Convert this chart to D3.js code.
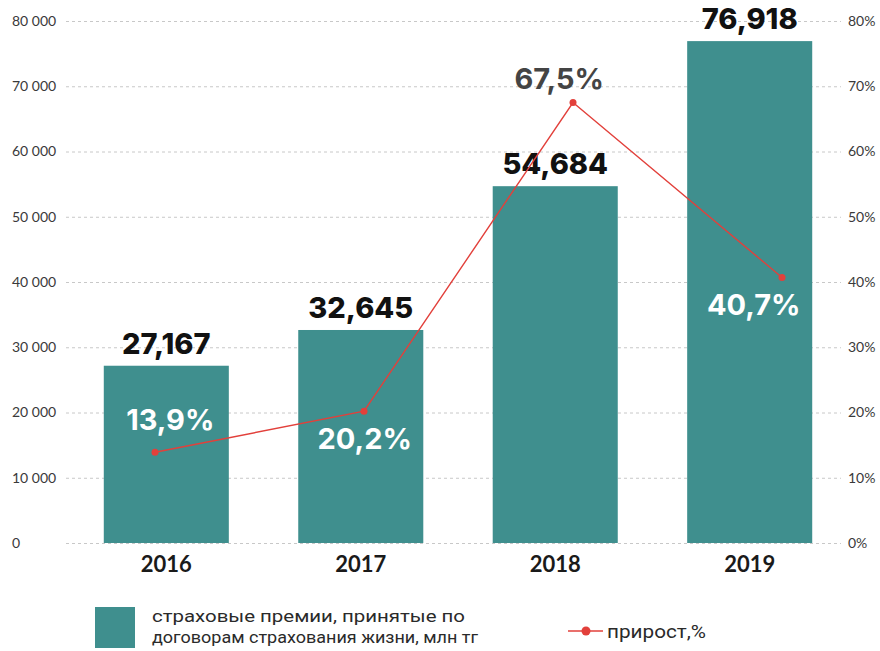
<!DOCTYPE html>
<html>
<head>
<meta charset="utf-8">
<script src="https://cdn.jsdelivr.net/npm/d3@7"></script>
<style>
  html, body { margin: 0; padding: 0; background: #fff; }
  svg { display: block; }
</style>
</head>
<body>
<svg id="chart" width="880" height="651"></svg>
<script>
// Life-insurance premiums (mln tg) and year-over-year growth
const years = ["2016", "2017", "2018", "2019"];
const premiums = [27167, 32645, 54684, 76918];
const premiumLabels = ["27,167", "32,645", "54,684", "76,918"];
const growth = [13.9, 20.2, 67.5, 40.7];
const growthLabels = ["13,9%", "20,2%", "67,5%", "40,7%"];
const leftTicks = [0, 10000, 20000, 30000, 40000, 50000, 60000, 70000, 80000];
const rightTicks = [0, 10, 20, 30, 40, 50, 60, 70, 80];
const legendBarLines = ["страховые премии, принятые по", "договорам страхования жизни, млн тг"];
const legendLineLabel = "прирост,%";

const TEAL = "#3f8f8e";
const RED = "#e2403b";

const svg = d3.select("#chart");
svg.append("rect").attr("width", 880).attr("height", 651).attr("fill", "#fff");

const x = d3.scaleBand().domain(years).range([68, 848]).paddingInner(0.357).paddingOuter(0.184);
const xLine = d3.scalePoint().domain(years).range([155, 782]);
const yLeft = d3.scaleLinear().domain([0, 80000]).range([543, 21]);
const yRight = d3.scaleLinear().domain([0, 80]).range([543, 21]);

const spaceFmt = d3.formatLocale({ decimal: ",", thousands: "\u00a0", grouping: [3], currency: ["", ""] }).format(",d");

// dashed gridlines
svg.append("g").selectAll("line").data(leftTicks).join("line")
  .attr("x1", 66).attr("x2", 841)
  .attr("y1", d => yLeft(d) + 0.5).attr("y2", d => yLeft(d) + 0.5)
  .attr("stroke", "#c8c8c8").attr("stroke-width", 1).attr("stroke-dasharray", "3,3");

// left axis labels
const leftAxis = d3.axisLeft(yLeft).tickValues(leftTicks).tickFormat(spaceFmt).tickSize(0);
const gL = svg.append("g").attr("transform", "translate(12,0)").call(leftAxis);
gL.select(".domain").remove();
gL.selectAll("text").attr("x", 0).attr("dy", "0.32em").attr("text-anchor", "start")
  .attr("font-family", "Lato, 'Open Sans', sans-serif").attr("font-size", 14).attr("fill", "#3a3a3a");

// right axis labels
const rightAxis = d3.axisRight(yRight).tickValues(rightTicks).tickFormat(d => d + "%").tickSize(0);
const gR = svg.append("g").attr("transform", "translate(848,0)").call(rightAxis);
gR.select(".domain").remove();
gR.selectAll("text").attr("x", 0).attr("dy", "0.32em").attr("text-anchor", "start")
  .attr("font-family", "Lato, 'Open Sans', sans-serif").attr("font-size", 14).attr("fill", "#3a3a3a");

// bars
svg.append("g").selectAll("rect").data(years).join("rect")
  .attr("x", d => x(d)).attr("width", x.bandwidth())
  .attr("y", (d, i) => yLeft(premiums[i]))
  .attr("height", (d, i) => yLeft(0) - yLeft(premiums[i]))
  .attr("fill", TEAL);

// bar value labels
svg.append("g").selectAll("text").data(years).join("text")
  .attr("x", d => x(d) + x.bandwidth() / 2)
  .attr("y", (d, i) => yLeft(premiums[i]) - 12)
  .attr("text-anchor", "middle")
  .attr("font-family", "Inter, 'Open Sans', sans-serif").attr("font-weight", 800)
  .attr("font-size", 29).attr("fill", "#111")
  .text((d, i) => premiumLabels[i]);

// x axis labels
const xAxis = d3.axisBottom(x).tickSize(0);
const gX = svg.append("g").attr("transform", "translate(0,543)").call(xAxis);
gX.select(".domain").remove();
gX.selectAll("text").attr("y", 29).attr("dy", 0)
  .attr("font-family", "Lato, 'Open Sans', sans-serif").attr("font-weight", 700)
  .attr("font-size", 22).attr("fill", "#1a1a1a");

// growth line
const line = d3.line().x((d, i) => xLine(years[i])).y(d => yRight(d));
svg.append("path").datum(growth).attr("d", line)
  .attr("fill", "none").attr("stroke", RED).attr("stroke-width", 1.4);
svg.append("g").selectAll("circle").data(growth).join("circle")
  .attr("cx", (d, i) => xLine(years[i])).attr("cy", d => yRight(d))
  .attr("r", 3.5).attr("fill", RED);

// growth labels: offset from each point, white where they sit on a bar
const growthDy = [-22, 38, -14, 38];
const growthInside = [true, true, false, true];
svg.append("g").selectAll("text").data(growth).join("text")
  .attr("x", (d, i) => x(years[i]) + x.bandwidth() / 2 + 4)
  .attr("y", (d, i) => yRight(d) + growthDy[i])
  .attr("text-anchor", "middle")
  .attr("font-family", "Inter, 'Open Sans', sans-serif").attr("font-weight", 700)
  .attr("font-size", 29)
  .attr("fill", (d, i) => growthInside[i] ? "#fff" : "#444")
  .text((d, i) => growthLabels[i]);

// legend
const lg = svg.append("g");
lg.append("rect").attr("x", 95).attr("y", 607).attr("width", 40).attr("height", 41).attr("fill", TEAL);
lg.selectAll("text.bl").data(legendBarLines).join("text").attr("class", "bl")
  .attr("x", 152).attr("y", (d, i) => 622 + i * 21)
  .attr("font-family", "'Liberation Sans Narrow', Roboto, sans-serif")
  .attr("font-size", 17).attr("fill", "#2a2a2a")
  .attr("textLength", (d, i) => i === 0 ? 313 : 326).attr("lengthAdjust", "spacingAndGlyphs")
  .text(d => d);
lg.append("line").attr("x1", 568).attr("x2", 603).attr("y1", 631).attr("y2", 631)
  .attr("stroke", RED).attr("stroke-width", 1.6);
lg.append("circle").attr("cx", 586).attr("cy", 631).attr("r", 4.5).attr("fill", RED);
lg.append("text").attr("x", 607).attr("y", 638)
  .attr("font-family", "'Liberation Sans Narrow', Roboto, sans-serif")
  .attr("font-size", 19).attr("fill", "#2a2a2a")
  .attr("textLength", 99).attr("lengthAdjust", "spacingAndGlyphs")
  .text(legendLineLabel);
</script>
</body>
</html>
